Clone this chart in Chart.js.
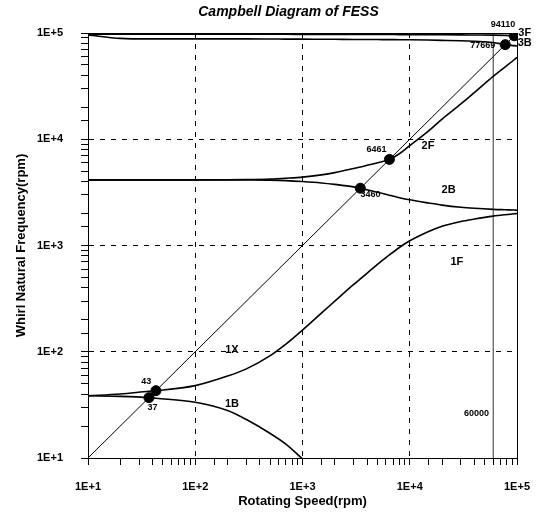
<!DOCTYPE html>
<html>
<head>
<meta charset="utf-8">
<script src="https://cdn.jsdelivr.net/npm/chart.js@4/dist/chart.umd.min.js"></script>
<style>
  html, body { margin: 0; padding: 0; background: #fff; }
  #wrap { width: 539px; height: 514px; }
</style>
</head>
<body>
<div id="wrap"><canvas id="grafico"></canvas></div>
<script>
// rotating speed (rpm) shared by the mode curves
const speed = [10, 20, 37, 43, 100, 200, 300, 500, 700, 1000, 1500, 2000, 3000, 3460, 5000, 6461, 8000, 10000, 15000, 20000, 30000, 40000, 60000, 77669, 94110, 100000];

// whirl natural frequency (rpm) per mode
const mode1B = [38.5, 38, 37, 36.5, 33.5, 28, 23, 17, 13.5, 9.8, null, null, null, null, null, null, null, null, null, null, null, null, null, null, null, null];
const mode1F = [38.5, 40, 42.5, 43, 48, 59, 69, 92, 118, 160, 231, 299, 430, 485, 664, 815, 957, 1107, 1356, 1521, 1683, 1773, 1890, 1950, 1990, 2000];
const mode2B = [4150, 4150, 4150, 4150, 4150, 4150, 4140, 4120, 4080, 4000, 3880, 3760, 3560, 3460, 3170, 2970, 2820, 2690, 2510, 2400, 2290, 2240, 2190, 2170, 2155, 2150];
const mode2F = [4150, 4150, 4150, 4150, 4150, 4160, 4180, 4230, 4300, 4400, 4620, 4850, 5300, 5480, 6000, 6461, 7300, 8700, 12000, 15500, 21500, 27500, 39000, 48000, 56000, 59000];
const mode3B = [96000, 89000, 88000, 88000, 88000, 88000, 88000, 87800, 87600, 87500, 87300, 87200, 87000, 87000, 86800, 86600, 86500, 86300, 85800, 85300, 84500, 83500, 81500, 77669, 76000, 75500];
const mode3F = [97500, 97500, 97500, 97500, 97400, 97300, 97300, 97200, 97200, 97100, 97000, 97000, 96900, 96900, 96800, 96700, 96600, 96500, 96300, 96200, 96000, 95800, 95500, 95000, 94110, 93900];

// 1X excitation line and critical speeds
const lineX = [10, 100000];
const lineY = [10, 100000];
const critSpeed = [37, 43, 3460, 6461, 77669, 94110];

// max operating speed
const maxSpeed = 60000;

// axis ticks (decades)
const decades = [10, 100, 1000, 10000, 100000];
const tickText = ["1E+1", "1E+2", "1E+3", "1E+4", "1E+5"];

// text labels on the plot (data coordinates)
const annoText = ["1X", "1B", "1F", "2F", "2B", "3F", "3B", "43", "37", "6461", "3460", "94110", "77669", "60000"];
const annoX = [220, 220, 27500, 14800, 23000, 118000, 118000, 35, 40, 4900, 4300, 74000, 48000, 42000];
const annoY = [105, 32, 700, 8700, 3300, 100000, 80000, 52, 30, 8000, 3000, 121000, 76000, 26.5];

const titulo = "Campbell Diagram of FESS";

function pares(xs, ys) {
    return xs.map((x, i) => ({ x: x, y: ys[i] }));
}

function curva(ys, w) {
    return {
        data: pares(speed, ys),
        borderColor: "#000",
        borderWidth: w,
        pointRadius: 0,
        cubicInterpolationMode: "monotone",
        spanGaps: false
    };
}

const rotulos = {
    id: "rotulos",
    afterDatasetsDraw(chart) {
        const ctx = chart.ctx;
        const sx = chart.scales.x, sy = chart.scales.y;
        const a = chart.chartArea;
        ctx.save();
        ctx.fillStyle = "#000";
        ctx.textAlign = "center";
        ctx.textBaseline = "middle";
        annoText.forEach((t, i) => {
            ctx.font = /^\d+$/.test(t) ? "bold 9px Arial" : "bold 11px Arial";
            ctx.fillText(t, sx.getPixelForValue(annoX[i]), sy.getPixelForValue(annoY[i]));
        });
        // titulo do grafico
        ctx.font = "italic bold 14px Arial";
        ctx.fillText(titulo, (a.left + a.right) / 2 - 14, a.top - 21);
        // moldura
        ctx.strokeStyle = "#000";
        ctx.lineWidth = 1;
        ctx.strokeRect(a.left + 0.5, a.top + 0.5, a.right - a.left, a.bottom - a.top);
        ctx.restore();
    }
};

const ehDecada = v => decades.includes(Math.round(v));

function eixo(nome, pad) {
    return {
        type: "logarithmic",
        min: 10,
        max: 100000,
        grid: {
            color: c => (c.tick && ehDecada(c.tick.value)) ? "#000" : "rgba(0,0,0,0)",
            tickColor: "#000",
            tickLength: 7,
            lineWidth: 1
        },
        border: { display: true, color: "#000", width: 1, dash: [5, 6] },
        ticks: {
            autoSkip: false,
            maxRotation: 0,
            color: "#000",
            padding: pad,
            font: { family: "Arial", size: 11, weight: "bold" },
            callback: v => {
                const i = decades.indexOf(Math.round(v));
                return i >= 0 ? tickText[i] : "";
            }
        },
        title: {
            display: true,
            text: nome,
            color: "#000",
            font: { family: "Arial", size: 13, weight: "bold" }
        }
    };
}

const escalaX = eixo("Rotating Speed(rpm)", 15);
escalaX.title.padding = { top: 0, bottom: 5 };
escalaX.afterFit = s => { s.height = 56; s.paddingRight = 22; };

const escalaY = eixo("Whirl Natural Frequency(rpm)", 18);
escalaY.title.padding = { top: 14, bottom: 0 };
escalaY.afterFit = s => { s.width = 88; };

new Chart(document.getElementById("grafico"), {
    type: "line",
    data: {
        datasets: [
            curva(mode1B, 1.6),
            curva(mode1F, 1.6),
            curva(mode2B, 1.6),
            curva(mode2F, 1.6),
            curva(mode3B, 1.6),
            curva(mode3F, 1.6),
            {
                data: pares(lineX, lineY),
                borderColor: "#000",
                borderWidth: 1,
                pointRadius: 0
            },
            {
                data: pares([maxSpeed, maxSpeed], [10, 100000]),
                borderColor: "#333",
                borderWidth: 1,
                pointRadius: 0
            },
            {
                type: "scatter",
                data: pares(critSpeed, critSpeed),
                backgroundColor: "#000",
                borderColor: "#000",
                pointRadius: 5,
                showLine: false
            }
        ]
    },
    options: {
        responsive: true,
        maintainAspectRatio: false,
        animation: false,
        layout: { padding: { left: 0, right: 0, top: 33, bottom: 0 } },
        plugins: {
            legend: { display: false },
            tooltip: { enabled: false },
            title: { display: false }
        },
        scales: { x: escalaX, y: escalaY }
    },
    plugins: [rotulos]
});
</script>
</body>
</html>
